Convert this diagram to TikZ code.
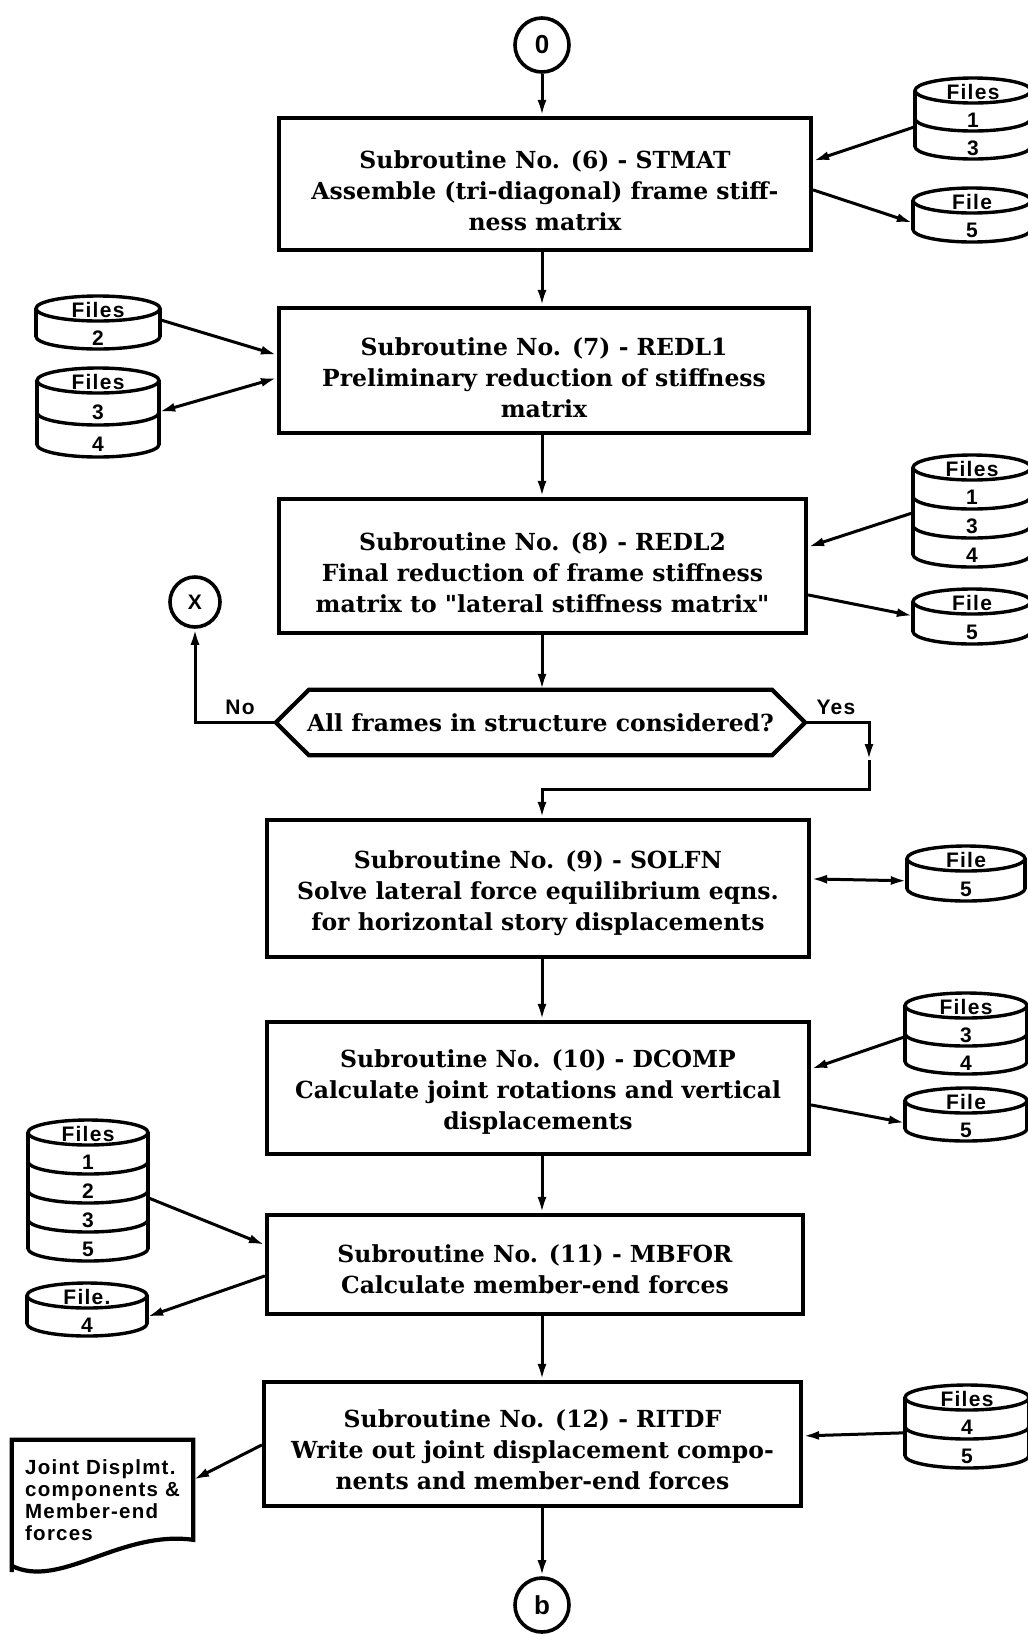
\documentclass[tikz,border=0pt]{standalone}
\usepackage{fontspec}
\usetikzlibrary{arrows.meta,calc}
\newfontfamily\boxfont{DejaVu Serif}
\newfontfamily\lblfont[LetterSpace=6]{Liberation Sans}

% drum (disk file) symbol: name, centre x, top y, half width, band height, title, band labels
\def\dmRy{12.5}
\newcommand\drum[7]{%
  \pgfmathsetmacro\dmX{#2}%
  \pgfmathsetmacro\dmTop{#3}%
  \pgfmathsetmacro\dmRx{#4}%
  \pgfmathsetmacro\dmH{#5}%
  \foreach \l [count=\k] in {#7} {\xdef\dmN{\k}}%
  \pgfmathsetmacro\dmBot{\dmTop+2*\dmRy+\dmN*\dmH}%
  \pgfmathsetmacro\dmW{2*\dmRx}%
  \pgfmathsetmacro\dmHt{\dmBot-\dmTop}%
  \pgfmathsetmacro\dmMid{(\dmTop+\dmBot)/2}%
  \node[inner sep=0pt, minimum width=\dmW pt, minimum height=\dmHt pt] (#1) at (\dmX,\dmMid) {};
  \draw[drumline] (\dmX,\dmTop+\dmRy) ellipse [x radius=\dmRx, y radius=\dmRy];
  \draw[drumline] (\dmX-\dmRx,\dmTop+\dmRy) -- (\dmX-\dmRx,\dmBot-\dmRy);
  \draw[drumline] (\dmX+\dmRx,\dmTop+\dmRy) -- (\dmX+\dmRx,\dmBot-\dmRy);
  \node[filelbl] at (\dmX,\dmTop+\dmRy+1) {#6};
  \foreach \l [count=\k] in {#7} {%
    \pgfmathsetmacro\dmY{\dmTop+2*\dmRy+\k*\dmH}%
    \draw[drumline] (\dmX-\dmRx,\dmY-\dmRy) arc[start angle=180, end angle=0, x radius=\dmRx, y radius=\dmRy];
    \node[filelbl] at (\dmX,\dmY-\dmH/2+3) {\l};
  }%
}

\tikzset{
  boxline/.style={line width=4.2pt, line join=miter},
  stepbox/.style={draw, boxline, inner sep=0pt},
  boxtext/.style={align=center, inner sep=0pt,
    font=\boxfont\bfseries\fontsize{23.5}{31}\selectfont},
  drumline/.style={line width=3.4pt},
  filelbl/.style={inner sep=0pt, font=\lblfont\bfseries\fontsize{21}{22}\selectfont},
  circ/.style={draw, circle, line width=3.6pt, inner sep=0pt,
    font=\lblfont\bfseries\fontsize{26}{26}\selectfont},
  tip/.tip={Latex[length=16pt,width=9pt]},
  conn/.style={line width=3pt, -tip},
  conn2/.style={line width=3pt, tip-tip},
}

\begin{document}
\begin{tikzpicture}[x=1pt,y=-1pt]
\useasboundingbox (0,0) rectangle (1028,1634);
\fill[white] (0,0) rectangle (1028,1634);
\clip (0,0) rectangle (1028,1634);

% connector circles
\node[circ, minimum size=54pt] (c0) at (542,45) {0};
\node[circ, minimum size=50pt, font=\lblfont\bfseries\fontsize{21}{21}\selectfont] (cx) at (195,602) {X};
\node[circ, minimum size=54pt] (c1) at (542,1605) {b};

% subroutine boxes
\node[stepbox, minimum width=532pt, minimum height=132pt] (b1) at (545,184) {};
\node[stepbox, minimum width=530pt, minimum height=125pt] (b2) at (544,370.5) {};
\node[stepbox, minimum width=527pt, minimum height=134pt] (b3) at (542.5,566) {};
\node[stepbox, minimum width=542pt, minimum height=137pt] (b4) at (538,888.5) {};
\node[stepbox, minimum width=542pt, minimum height=132pt] (b5) at (538,1088) {};
\node[stepbox, minimum width=536pt, minimum height=99pt] (b6) at (535,1264.5) {};
\node[stepbox, minimum width=537pt, minimum height=124pt] (b7) at (532.5,1444) {};

\node[boxtext] at ([yshift=-7pt]b1.center) {Subroutine No. (6) - STMAT\\Assemble (tri-diagonal) frame stiff-\\ness matrix};
\node[boxtext] at ([yshift=-7pt]b2.center) {Subroutine No. (7) - REDL1\\Preliminary reduction of stiffness\\matrix};
\node[boxtext] at ([yshift=-7pt]b3.center) {Subroutine No. (8) - REDL2\\Final reduction of frame stiffness\\matrix to "lateral stiffness matrix"};
\node[boxtext] at ([yshift=-5pt]b4.center) {Subroutine No. (9) - SOLFN\\Solve lateral force equilibrium eqns.\\for horizontal story displacements};
\node[boxtext] at ([yshift=-4pt]b5.center) {Subroutine No. (10) - DCOMP\\Calculate joint rotations and vertical\\displacements};
\node[boxtext] at ([yshift=-5pt]b6.center) {Subroutine No. (11) - MBFOR\\Calculate member-end forces};
\node[boxtext] at ([yshift=-6pt]b7.center) {Subroutine No. (12) - RITDF\\Write out joint displacement compo-\\nents and member-end forces};

% decision
\node[inner sep=0pt, minimum width=529pt, minimum height=65pt] (dec) at (540.5,722.5) {};
\draw[boxline] (dec.west) -- ($(dec.north west)+(33,0)$) -- ($(dec.north east)+(-33,0)$)
  -- (dec.east) -- ($(dec.south east)+(-33,0)$) -- ($(dec.south west)+(33,0)$) -- cycle;
\node[boxtext] at (dec.center) {All frames in structure considered?};

% output document
\node[inner sep=0pt, minimum width=181pt, minimum height=132pt] (doc) at (102.5,1506) {};
\draw[boxline] (doc.south west) -- (doc.north west) -- (doc.north east)
  -- ($(doc.north east)+(0,100)$)
  .. controls ($(doc.north east)+(-73,90)$) and ($(doc.north west)+(48,150)$) .. ($(doc.north west)+(0,126)$) -- cycle;
\node[inner sep=0pt, anchor=north west, align=left,
  font=\lblfont\bfseries\fontsize{20.5}{22}\selectfont] at (25,1459)
  {Joint Displmt.\\components \&\\Member-end\\forces};

% disk files
\drum{fa}{973}{78}{58}{28}{Files}{1,3}
\drum{fb}{972}{188}{59}{29}{File}{5}
\drum{fc}{972}{455}{59}{29}{Files}{1,3,4}
\drum{fd}{972}{589}{59}{30}{File}{5}
\drum{fe}{966}{846}{59}{30}{File}{5}
\drum{ff}{966}{993}{61}{28}{Files}{3,4}
\drum{fg}{966}{1088}{61}{28}{File}{5}
\drum{fh}{967}{1385}{62}{29}{Files}{4,5}
\drum{fi}{98}{296}{62}{28}{Files}{2}
\drum{fj}{98}{368}{61}{32}{Files}{3,4}
\drum{fk}{88}{1120}{60}{29}{Files}{1,2,3,5}
\drum{fl}{87}{1283}{60}{28}{File.}{4}

% main flow
\draw[conn] (c0) -- (b1.north -| c0);
\draw[conn] (b1.south -| c0) -- (b2.north -| c0);
\draw[conn] (b2.south -| c0) -- (b3.north -| c0);
\draw[conn] (b3.south -| c0) -- (dec.north -| c0);
\draw[conn] (dec.west) -| (cx);
\coordinate (ya) at (869,760);
\coordinate (yb) at (869,789);
\draw[conn] (dec.east) -| (ya);
\draw[conn] (ya) -- (yb) -- (yb -| c0) -- (b4.north -| c0);
\draw[conn] (b4.south -| c0) -- (b5.north -| c0);
\draw[conn] (b5.south -| c0) -- (b6.north -| c0);
\draw[conn] (b6.south -| c0) -- (b7.north -| c0);
\draw[conn] (b7.south -| c0) -- (c1);

\node[filelbl] at (240,707) {No};
\node[filelbl] at (836,707) {Yes};

% file transfers
\draw[conn] ($(fa.north west)+(0,49)$) -- ($(b1.north east)+(0,45)$);
\draw[conn] ($(b1.north east)+(0,74)$) -- ($(fb.north west)+(0,35)$);
\draw[conn] ($(fi.north east)+(0,24)$) -- ($(b2.north west)+(0,49)$);
\draw[conn2] ($(b2.north west)+(0,72)$) -- ($(fj.north east)+(0,44)$);
\draw[conn] ($(fc.north west)+(0,58)$) -- ($(b3.north east)+(0,50)$);
\draw[conn] ($(b3.north east)+(0,98)$) -- ($(fd.north west)+(0,27)$);
\draw[conn2] ($(b4.north east)+(0,61)$) -- ($(fe.north west)+(0,35)$);
\draw[conn] ($(ff.north west)+(0,44)$) -- ($(b5.north east)+(0,49)$);
\draw[conn] ($(b5.north east)+(0,85)$) -- ($(fg.north west)+(0,35)$);
\draw[conn] ($(fk.north east)+(0,78)$) -- ($(b6.north west)+(0,32)$);
\draw[conn] ($(b6.north west)+(0,63)$) -- ($(fl.north east)+(0,34)$);
\draw[conn] ($(fh.north west)+(0,48)$) -- ($(b7.north east)+(0,56)$);
\draw[conn] ($(b7.north west)+(0,65)$) -- ($(doc.north east)+(0,40)$);
\end{tikzpicture}
\end{document}
